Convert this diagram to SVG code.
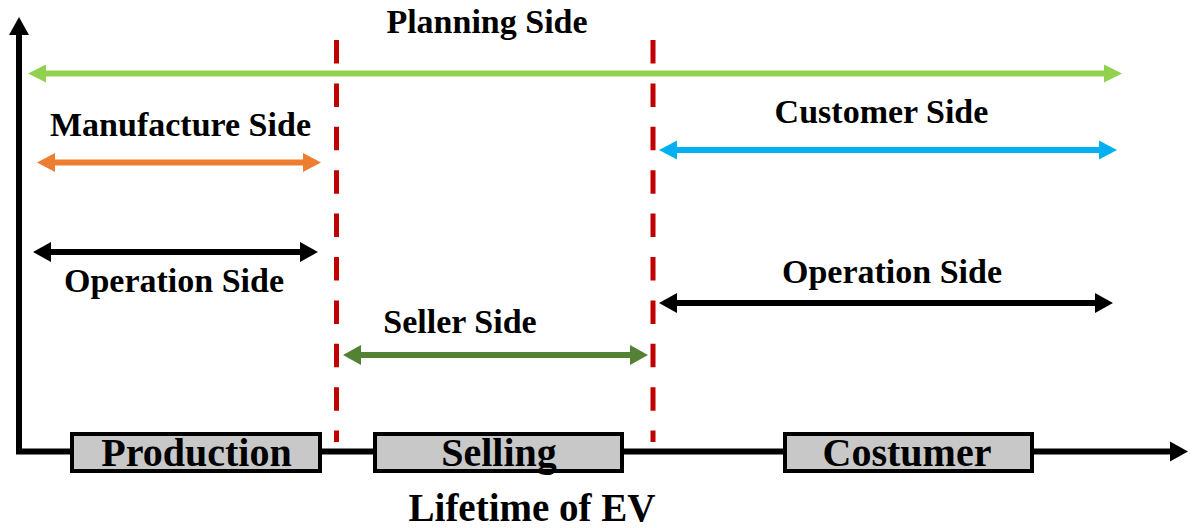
<svg xmlns="http://www.w3.org/2000/svg" width="1192" height="528" viewBox="0 0 1192 528">
  <style>
    text { font-family: 'Liberation Serif', 'DejaVu Serif', serif; font-weight: 700; fill: #000; text-anchor: middle; }
    .label { font-size: 34px; }
    .stage { font-size: 40px; }
    .axis-title { font-size: 39px; }
    .span { fill: none; stroke-width: 6; stroke-linecap: butt; }
    .divider { stroke: #C00000; stroke-width: 5; stroke-dasharray: 23.5 19.9; fill: none; }
    .box { fill: #C8C8C8; stroke: #000; stroke-width: 4; }
  </style>
  <defs>
    <marker id="head-black" markerUnits="userSpaceOnUse" markerWidth="18" markerHeight="20" refX="0" refY="10" orient="auto-start-reverse" overflow="visible">
      <path d="M0,0 L18,10 L0,20 z" fill="#000"/>
    </marker>
    <marker id="head-plan" markerUnits="userSpaceOnUse" markerWidth="18" markerHeight="20" refX="0" refY="10" orient="auto-start-reverse" overflow="visible">
      <path d="M0,1 L18,10 L0,19 z" fill="#92D050"/>
    </marker>
    <marker id="head-manu" markerUnits="userSpaceOnUse" markerWidth="18" markerHeight="20" refX="0" refY="10" orient="auto-start-reverse" overflow="visible">
      <path d="M0,0.5 L18,10 L0,19.5 z" fill="#ED7D31"/>
    </marker>
    <marker id="head-cust" markerUnits="userSpaceOnUse" markerWidth="18" markerHeight="20" refX="0" refY="10" orient="auto-start-reverse" overflow="visible">
      <path d="M0,0.5 L18,10 L0,19.5 z" fill="#00B0F0"/>
    </marker>
    <marker id="head-sell" markerUnits="userSpaceOnUse" markerWidth="18" markerHeight="20" refX="0" refY="10" orient="auto-start-reverse" overflow="visible">
      <path d="M0,0 L18,10 L0,20 z" fill="#548235"/>
    </marker>
  </defs>

  <!-- time axes -->
  <g id="axes">
    <path d="M19,35 L19,451.5 L1170,451.5" fill="none" stroke="#000" stroke-width="6" stroke-linejoin="miter" marker-start="url(#head-black)" marker-end="url(#head-black)"/>
  </g>

  <!-- phase boundaries -->
  <g id="dividers">
    <line class="divider" x1="336.5" y1="40" x2="336.5" y2="442"/>
    <line class="divider" x1="653" y1="40" x2="653" y2="442"/>
  </g>

  <!-- span arrows -->
  <g id="connectors">
    <line class="span" x1="46" y1="73.5" x2="1104" y2="73.5" stroke="#92D050" marker-start="url(#head-plan)" marker-end="url(#head-plan)"/>
    <line class="span" x1="55" y1="162.5" x2="303" y2="162.5" stroke="#ED7D31" marker-start="url(#head-manu)" marker-end="url(#head-manu)"/>
    <line class="span" x1="677" y1="150" x2="1099" y2="150" stroke="#00B0F0" marker-start="url(#head-cust)" marker-end="url(#head-cust)"/>
    <line class="span" x1="51" y1="252" x2="300" y2="252" stroke="#000" stroke-width="5" marker-start="url(#head-black)" marker-end="url(#head-black)"/>
    <line class="span" x1="677" y1="303" x2="1095" y2="303" stroke="#000" stroke-width="5" marker-start="url(#head-black)" marker-end="url(#head-black)"/>
    <line class="span" x1="361" y1="355" x2="630" y2="355" stroke="#548235" stroke-width="5" marker-start="url(#head-sell)" marker-end="url(#head-sell)"/>
  </g>

  <!-- span labels -->
  <g id="planning-side"><text class="label" font-family="Liberation Serif, serif" x="487" y="33">Planning Side</text></g>
  <g id="manufacture-side"><text class="label" font-family="Liberation Serif, serif" x="180.5" y="136">Manufacture Side</text></g>
  <g id="customer-side"><text class="label" font-family="Liberation Serif, serif" x="881.5" y="123">Customer Side</text></g>
  <g id="operation-side-production"><text class="label" font-family="Liberation Serif, serif" x="174" y="292">Operation Side</text></g>
  <g id="operation-side-customer"><text class="label" font-family="Liberation Serif, serif" x="892" y="283">Operation Side</text></g>
  <g id="seller-side"><text class="label" font-family="Liberation Serif, serif" x="460" y="333">Seller Side</text></g>

  <!-- lifecycle stages -->
  <g id="production">
    <rect class="box" x="72" y="434" width="248" height="37"/>
    <text class="stage" font-family="Liberation Serif, serif" x="196.5" y="466">Production</text>
  </g>
  <g id="selling">
    <rect class="box" x="375" y="434" width="247" height="37"/>
    <text class="stage" font-family="Liberation Serif, serif" x="499" y="466">Selling</text>
  </g>
  <g id="costumer">
    <rect class="box" x="785" y="434" width="247" height="37"/>
    <text class="stage" font-family="Liberation Serif, serif" x="907" y="466">Costumer</text>
  </g>

  <g id="axis-title"><text class="axis-title" font-family="Liberation Serif, serif" x="532" y="521">Lifetime of EV</text></g>
</svg>
